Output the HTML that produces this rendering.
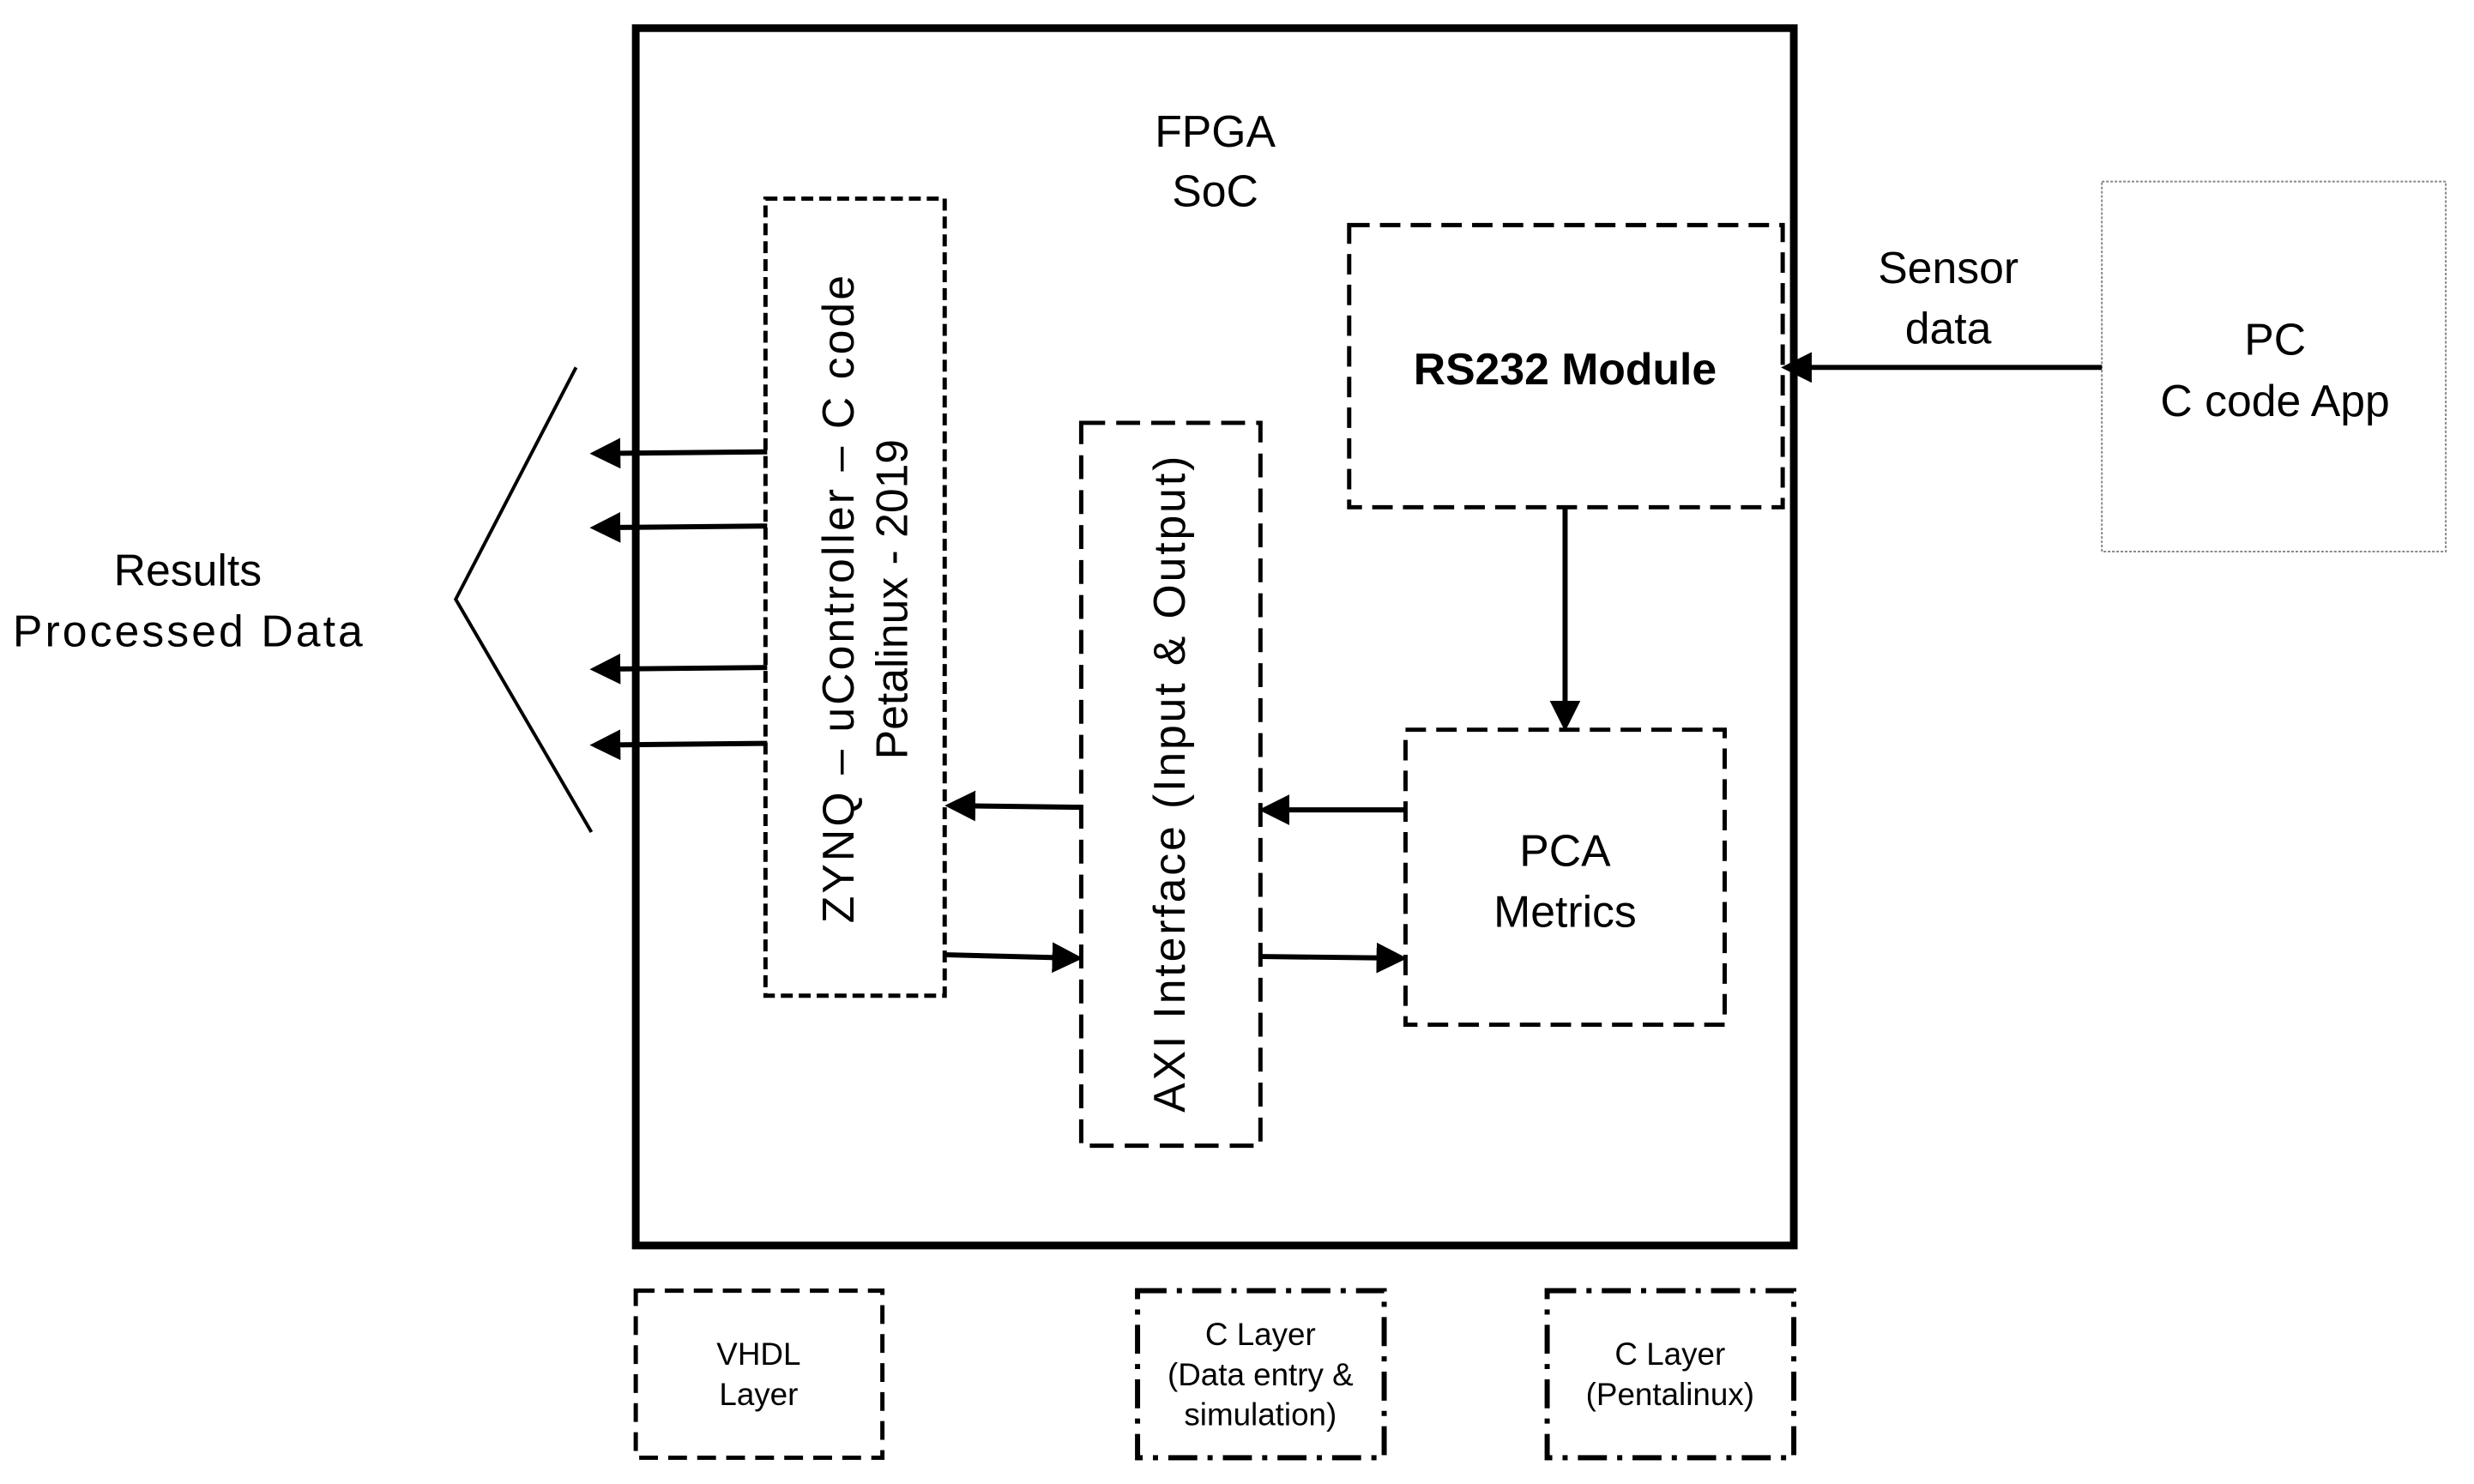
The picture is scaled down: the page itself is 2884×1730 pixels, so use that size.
<!DOCTYPE html>
<html><head><meta charset="utf-8"><style>html,body{margin:0;padding:0;background:#fff}svg{display:block}</style></head>
<body>
<svg width="2884" height="1730" viewBox="0 0 2884 1730" xmlns="http://www.w3.org/2000/svg" font-family="Liberation Sans, Arial, sans-serif">
<defs>
<marker id="ah" markerWidth="6" markerHeight="6" refX="5" refY="3" orient="auto" markerUnits="strokeWidth">
<path d="M0,0 L6,3 L0,6 z" fill="#000"/></marker>
</defs>
<rect width="2884" height="1730" fill="#fff"/>
<g transform="scale(0.9948,0.9938)">
<rect x="745" y="33" width="1357" height="1428" fill="none" stroke="#000" stroke-width="9"/>
<text x="1424" y="172" font-size="52" text-anchor="middle">FPGA</text>
<text x="1424" y="242" font-size="52" text-anchor="middle">SoC</text>
<rect x="897" y="233" width="210" height="935" fill="none" stroke="#000" stroke-width="5" stroke-dasharray="14,7"/>
<g transform="translate(982,703) rotate(-90)"><text x="0" y="18" font-size="52" text-anchor="middle" textLength="760">ZYNQ – uController – C code</text></g>
<g transform="translate(1045,703) rotate(-90)"><text x="0" y="18" font-size="52" text-anchor="middle">Petalinux - 2019</text></g>
<rect x="1267" y="496" width="210" height="848" fill="none" stroke="#000" stroke-width="5" stroke-dasharray="28,13"/>
<g transform="translate(1370,920) rotate(-90)"><text x="0" y="18" font-size="52" text-anchor="middle" textLength="770">AXI Interface (Input &amp; Output)</text></g>
<rect x="1581" y="264" width="508" height="331" fill="none" stroke="#000" stroke-width="5" stroke-dasharray="24,12"/>
<text x="1834" y="451" font-size="52" font-weight="bold" text-anchor="middle">RS232 Module</text>
<rect x="1647" y="856" width="374" height="346" fill="none" stroke="#000" stroke-width="5" stroke-dasharray="24,12"/>
<text x="1834" y="1016" font-size="52" text-anchor="middle">PCA</text>
<text x="1834" y="1087" font-size="52" text-anchor="middle">Metrics</text>
<rect x="2463" y="213" width="403" height="434" fill="none" stroke="#888" stroke-width="2" stroke-dasharray="3,2"/>
<text x="2666" y="416" font-size="52" text-anchor="middle">PC</text>
<text x="2666" y="488" font-size="52" text-anchor="middle">C code App</text>
<text x="2283" y="332" font-size="52" text-anchor="middle">Sensor</text>
<text x="2283" y="403" font-size="52" text-anchor="middle">data</text>
<text x="220" y="687" font-size="52" text-anchor="middle">Results</text>
<text x="220" y="758" font-size="52" text-anchor="middle" textLength="410">Processed Data</text>
<polyline points="675,431 534,703 693,976" fill="none" stroke="#000" stroke-width="4"/>
<g stroke="#000" stroke-width="6" marker-end="url(#ah)">
<line x1="899" y1="530" x2="697" y2="532"/>
<line x1="899" y1="617" x2="697" y2="619"/>
<line x1="899" y1="783" x2="697" y2="785"/>
<line x1="899" y1="872" x2="697" y2="874"/>
<line x1="1267" y1="947" x2="1113" y2="945"/>
<line x1="1109" y1="1120" x2="1263" y2="1124"/>
<line x1="1647" y1="950" x2="1481" y2="950"/>
<line x1="1477" y1="1122" x2="1643" y2="1124"/>
<line x1="1834" y1="597" x2="1834" y2="852"/>
<line x1="2463" y1="431" x2="2093" y2="431"/>
</g>
<rect x="745" y="1514" width="289" height="196" fill="none" stroke="#000" stroke-width="5" stroke-dasharray="22,12"/>
<text x="889" y="1601" font-size="37" text-anchor="middle">VHDL</text>
<text x="889" y="1648" font-size="37" text-anchor="middle">Layer</text>
<rect x="1333" y="1514" width="289" height="196" fill="none" stroke="#000" stroke-width="6" stroke-dasharray="34,12,6,12"/>
<text x="1477" y="1578" font-size="37" text-anchor="middle">C Layer</text>
<text x="1477" y="1625" font-size="37" text-anchor="middle">(Data entry &amp;</text>
<text x="1477" y="1672" font-size="37" text-anchor="middle">simulation)</text>
<rect x="1813" y="1514" width="289" height="196" fill="none" stroke="#000" stroke-width="6" stroke-dasharray="34,12,6,12"/>
<text x="1957" y="1601" font-size="37" text-anchor="middle">C Layer</text>
<text x="1957" y="1648" font-size="37" text-anchor="middle">(Pentalinux)</text>
</g>
</svg>
</body></html>
